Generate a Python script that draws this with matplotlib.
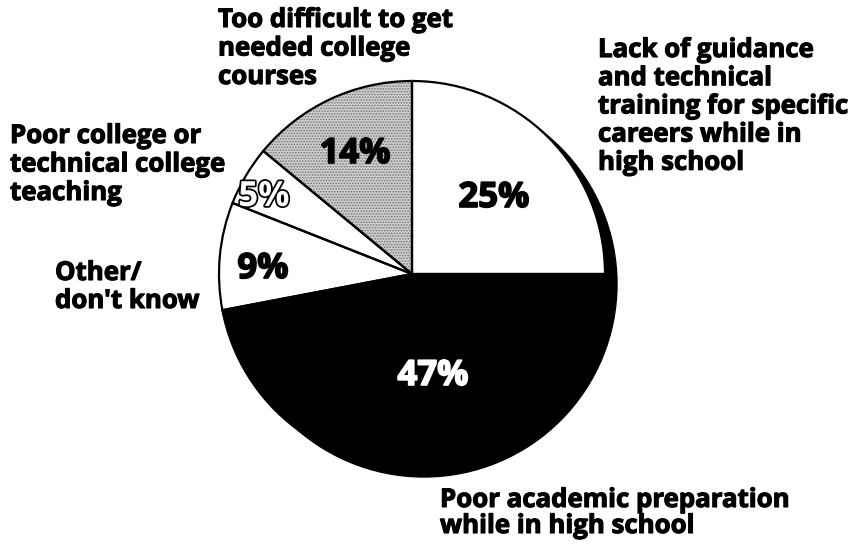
import matplotlib
matplotlib.use('Agg')
from matplotlib import pyplot as plt
from matplotlib.patches import Circle
import matplotlib.patheffects as pe

# Shares, clockwise from 12 o'clock
shares = [25, 47, 9, 5, 14]
reasons = [
    'Lack of guidance\nand technical\ntraining for specific\ncareers while in\nhigh school',
    'Poor academic preparation\nwhile in high school',
    'Other/\ndon\'t know',
    'Poor college or\ntechnical college\nteaching',
    'Too difficult to get\nneeded college\ncourses',
]

plt.rcParams['font.family'] = ['Open Sans', 'DejaVu Sans']
plt.rcParams['hatch.linewidth'] = 0.7

W, H = 853, 549
fig = plt.figure(figsize=(W / 100, H / 100), dpi=100)
ax = fig.add_axes([0, 0, 1, 1])

cx, cy, r = 412, H - 274, 193

# black drop shadow behind the pie
ax.add_patch(Circle((cx + 12, cy - 10), r, color='black', zorder=0))

fills = ['white', 'black', 'white', 'white', '#cdcdcd']
wedges, _ = ax.pie(shares, colors=fills, startangle=90, counterclock=False,
                   center=(cx, cy), radius=r, frame=True,
                   wedgeprops=dict(linewidth=0))

# stippled fill for the "too difficult" slice
wedges[4].set_hatch('......')
wedges[4].set_edgecolor('#707070')

# outlines on top of the fills
ax.pie(shares, startangle=90, counterclock=False,
       center=(cx, cy), radius=r, frame=True,
       wedgeprops=dict(edgecolor='black', linewidth=1.6, fill=False))

ax.set_xlim(0, W)
ax.set_ylim(0, H)
ax.set_aspect('equal')
ax.axis('off')

# percentage labels (x centre, baseline)
pct_pos = [(494, 207), (433, 385), (263, 278), (264, 206), (355, 163)]
pct_color = ['black', 'white', 'black', 'white', 'black']
for v, (x, y), c in zip(shares, pct_pos, pct_color):
    t = ax.text(x, H - y, f'{v}%', color=c, fontsize=25, fontweight='bold',
                ha='center', va='baseline')
    if v == 5:
        t.set_path_effects([pe.withStroke(linewidth=2.5, foreground='black')])
    else:
        t.set_path_effects([pe.withStroke(linewidth=1.2, foreground=c)])

# category labels, one line at a time (x, first baseline, line step)
label_pos = [(598, 57, 28.2), (440, 507, 26), (55, 280, 28), (10, 143, 28.5), (218, 27, 28.5)]
for txt, (x, y0, step) in zip(reasons, label_pos):
    for i, line in enumerate(txt.split('\n')):
        ax.text(x, H - (y0 + i * step), line, fontsize=18.6, fontweight='bold',
                ha='left', va='baseline',
                path_effects=[pe.withStroke(linewidth=0.8, foreground='black')])

fig.savefig('out.png', dpi=100, facecolor='white')
